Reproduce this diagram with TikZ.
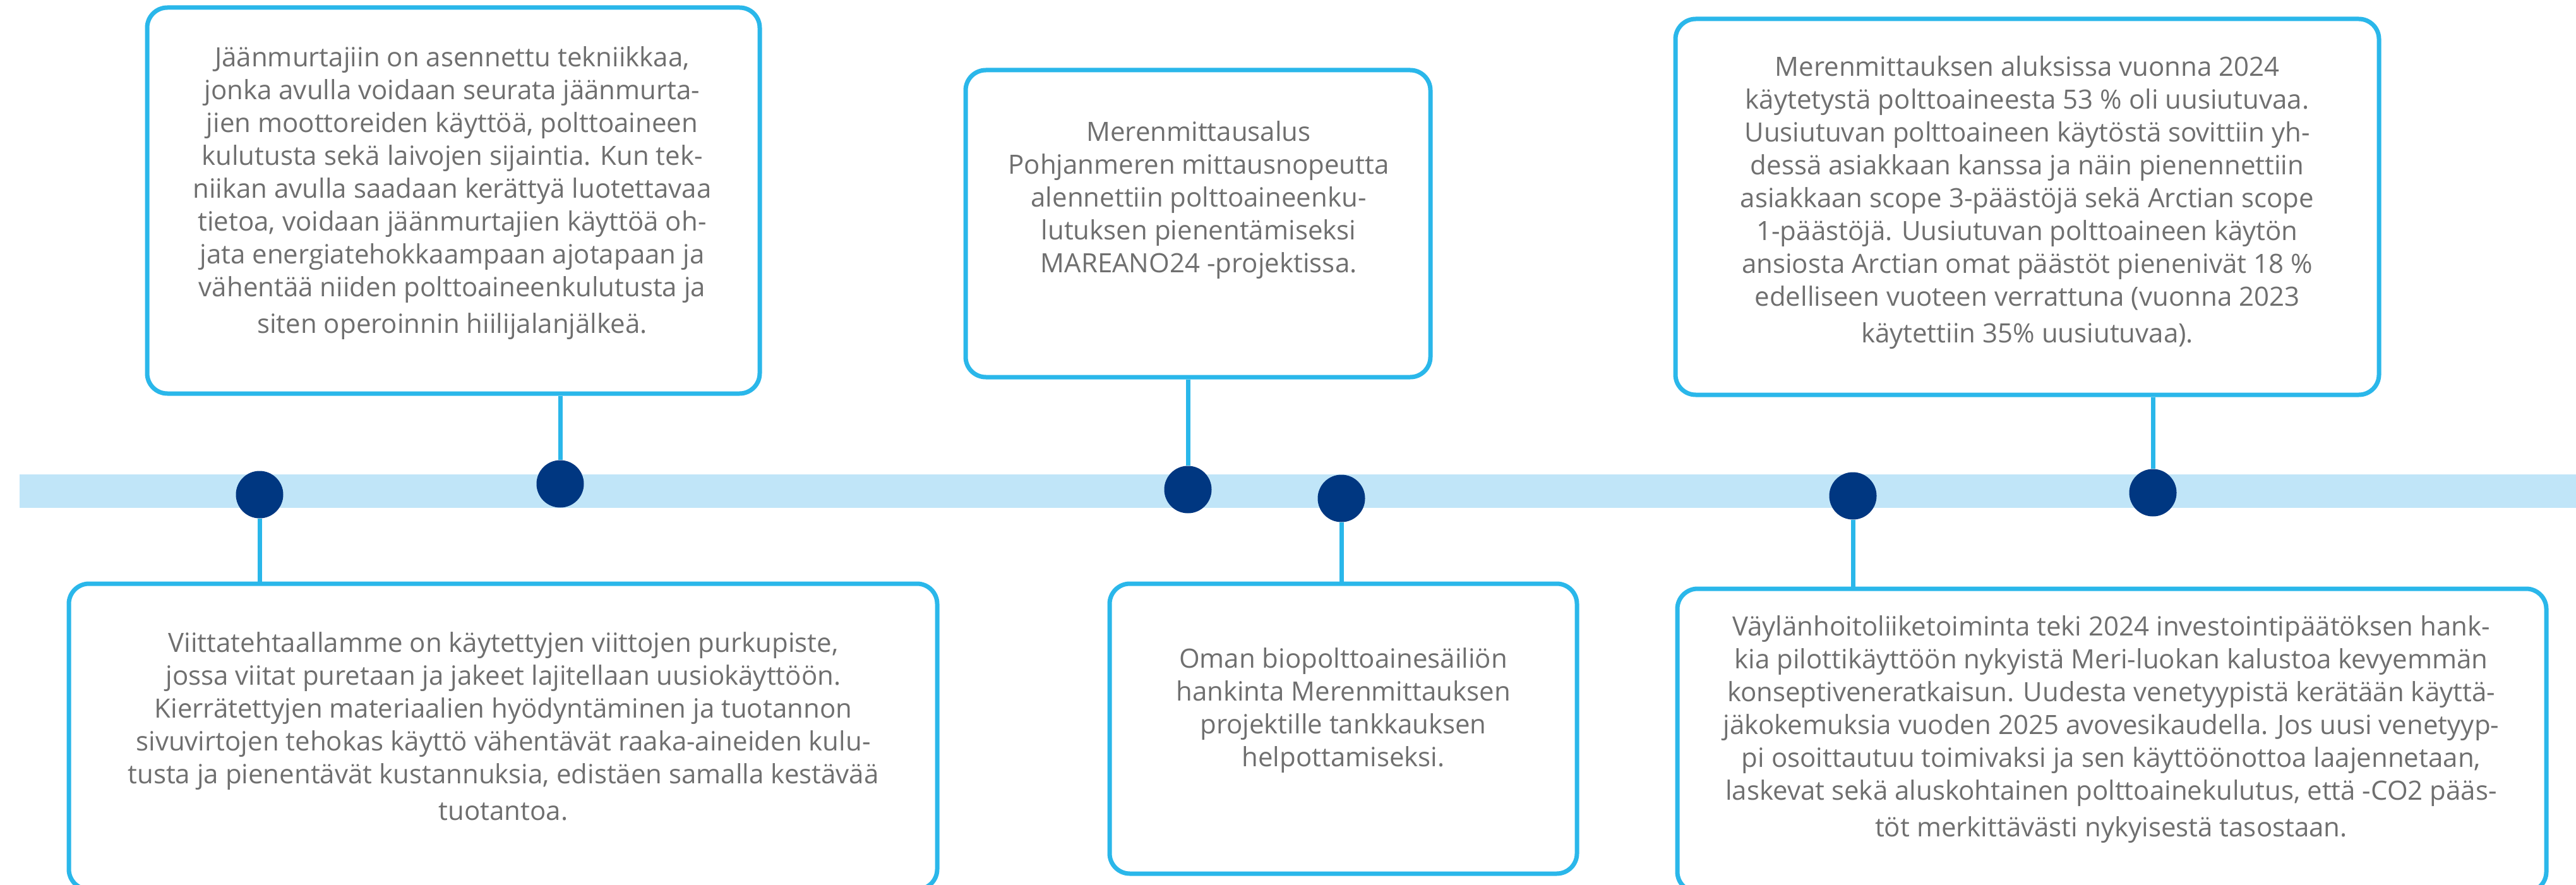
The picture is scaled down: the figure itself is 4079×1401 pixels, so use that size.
\documentclass[tikz,border=0pt]{standalone}
\usepackage{fontspec}
\setmainfont{Open Sans}
\definecolor{barblue}{HTML}{C0E5F8}
\definecolor{navy}{HTML}{003781}
\definecolor{cyanline}{HTML}{2AB7EA}
\definecolor{txtgray}{HTML}{6F6F6F}
\begin{document}
\begin{tikzpicture}[x=0.25pt,y=-0.25pt,
  box/.style={draw=cyanline,line width=1.75pt,fill=white,rounded corners=8pt,inner sep=0pt},
  dot/.style={circle,fill=navy,minimum size=18.75pt,inner sep=0pt},
  conn/.style={draw=cyanline,line width=1.75pt},
  txt/.style={text=txtgray,align=center,font=\fontsize{10.5pt}{13pt}\selectfont,inner sep=0pt}]
\clip (0,0) rectangle (4079,1401);
\fill[white] (0,0) rectangle (4079,1401);
% bar
\fill[barblue] (31,751) rectangle (4079,804);
% circles (timeline dots)
\node[dot] (c1) at (411,783) {};
\node[dot] (c2) at (887,766) {};
\node[dot] (c3) at (1881,775) {};
\node[dot] (c4) at (2124,789) {};
\node[dot] (c5) at (2934,785) {};
\node[dot] (c6) at (3409,780) {};
% boxes
\node[box,minimum width=242.5pt,minimum height=152.75pt] (tl) at (718,317.5) {};
\node[box,minimum width=184pt,minimum height=121.5pt] (tm) at (1897,354) {};
\node[box,minimum width=278.5pt,minimum height=148.75pt] (tr) at (3210,327.5) {};
\node[box,minimum width=343.75pt,minimum height=121pt] (bl) at (796.5,1166) {};
\node[box,minimum width=185pt,minimum height=114.75pt] (bm) at (2127,1153.5) {};
\node[box,minimum width=344pt,minimum height=120pt] (br) at (3344,1172) {};
% connectors
\begin{scope}[on background layer/.style={}]
\end{scope}
\path[conn] (tl.south -| c2) -- (c2.north);
\path[conn] (tm.south -| c3) -- (c3.north);
\path[conn] (tr.south -| c6) -- (c6.north);
\path[conn] (c1.south) -- (bl.north -| c1);
\path[conn] (c4.south) -- (bm.north -| c4);
\path[conn] (c5.south) -- (br.north -| c5);
% texts
\node[txt] (ttl) at (716,306) {Jäänmurtajiin on asennettu tekniikkaa,\\
jonka avulla voidaan seurata jäänmurta-\\
jien moottoreiden käyttöä, polttoaineen\\
kulutusta sekä laivojen sijaintia. Kun tek-\\
niikan avulla saadaan kerättyä luotettavaa\\
tietoa, voidaan jäänmurtajien käyttöä oh-\\
jata energiatehokkaampaan ajotapaan ja\\
vähentää niiden polttoaineenkulutusta ja\\[1.5pt]
siten operoinnin hiilijalanjälkeä.};
\node[txt] (ttm) at (1898,317) {Merenmittausalus\\
Pohjanmeren mittausnopeutta\\
alennettiin polttoaineenku-\\
lutuksen pienentämiseksi\\
MAREANO24 -projektissa.};
\node[txt] (ttr) at (3210,321) {Merenmittauksen aluksissa vuonna 2024\\
käytetystä polttoaineesta 53 \% oli uusiutuvaa.\\
Uusiutuvan polttoaineen käytöstä sovittiin yh-\\
dessä asiakkaan kanssa ja näin pienennettiin\\
asiakkaan scope 3-päästöjä sekä Arctian scope\\
1-päästöjä. Uusiutuvan polttoaineen käytön\\
ansiosta Arctian omat päästöt pienenivät 18 \%\\
edelliseen vuoteen verrattuna (vuonna 2023\\[1.5pt]
käytettiin 35\% uusiutuvaa).};
\node[txt] (tbl) at (797,1150) {Viittatehtaallamme on käytettyjen viittojen purkupiste,\\
jossa viitat puretaan ja jakeet lajitellaan uusiokäyttöön.\\
Kierrätettyjen materiaalien hyödyntäminen ja tuotannon\\
sivuvirtojen tehokas käyttö vähentävät raaka-aineiden kulu-\\
tusta ja pienentävät kustannuksia, edistäen samalla kestävää\\[1.5pt]
tuotantoa.};
\node[txt] (tbm) at (2127,1125) {Oman biopolttoainesäiliön\\
hankinta Merenmittauksen\\
projektille tankkauksen\\
helpottamiseksi.};
\node[txt] (tbr) at (3343,1155) {Väylänhoitoliiketoiminta teki 2024 investointipäätöksen hank-\\
kia pilottikäyttöön nykyistä Meri-luokan kalustoa kevyemmän\\
konseptiveneratkaisun. Uudesta venetyypistä kerätään käyttä-\\
jäkokemuksia vuoden 2025 avovesikaudella. Jos uusi venetyyp-\\
pi osoittautuu toimivaksi ja sen käyttöönottoa laajennetaan,\\
laskevat sekä aluskohtainen polttoainekulutus, että -CO2 pääs-\\[1.5pt]
töt merkittävästi nykyisestä tasostaan.};
\end{tikzpicture}
\end{document}
